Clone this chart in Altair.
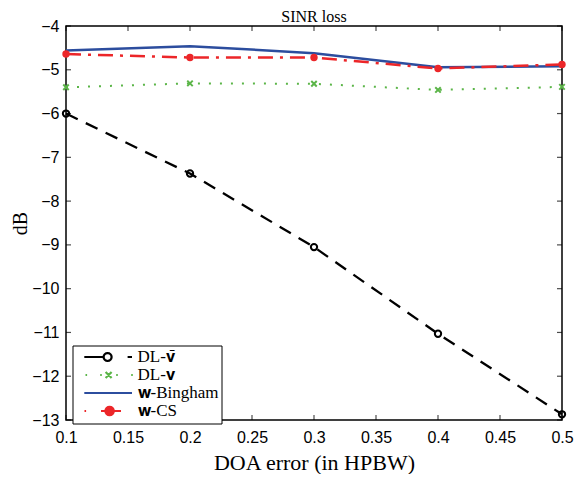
import math
import altair as alt
import pandas as pd

# ---------------- data ----------------
x_vals = [0.1, 0.2, 0.3, 0.4, 0.5]
dl_vbar = [-6.00, -7.37, -9.05, -11.03, -12.87]
dl_v = [-5.40, -5.31, -5.32, -5.46, -5.39]
w_bingham = [-4.56, -4.46, -4.62, -4.94, -4.92]
w_cs = [-4.64, -4.72, -4.72, -4.97, -4.88]

series_keys = ["vbar", "v", "bing", "cs"]
series_names = ["DL-\U0001D42F\u0304", "DL-\U0001D42F", "\U0001D430-Bingham", "\U0001D430-CS"]
x_ticks = [0.1, 0.15, 0.2, 0.25, 0.3, 0.35, 0.4, 0.45, 0.5]
y_ticks = [-13, -12, -11, -10, -9, -8, -7, -6, -5, -4]

colors = ["#000000", "#5bb548", "#2c4d9e", "#ec2629"]

rows = []
for k, name, ys in zip(series_keys, series_names, [dl_vbar, dl_v, w_bingham, w_cs]):
    for xv, yv in zip(x_vals, ys):
        rows.append({"x": xv, "y": yv, "k": k, "series": name})
df = pd.DataFrame(rows)

XT = "DOA error (in HPBW)"
YT = "dB"
xscale = alt.Scale(domain=[0.1, 0.5], nice=False, zero=False)
yscale = alt.Scale(domain=[-13, -4], nice=False, zero=False)

base = alt.Chart(df).encode(
    x=alt.X("x:Q", scale=xscale, title=XT,
            axis=alt.Axis(values=x_ticks, format="~g", labelFlush=False)),
    y=alt.Y("y:Q", scale=yscale, title=YT,
            axis=alt.Axis(values=y_ticks, format="~g", labelFlush=False)),
)


def sel(k):
    return base.transform_filter(alt.datum.k == k)


xmark = "M-1,-1L1,1M-1,1L1,-1"

l_vbar = sel("vbar").mark_line(color=colors[0], strokeWidth=2.3, strokeDash=[13, 9])
p_vbar = sel("vbar").mark_point(shape="circle", filled=False, color=colors[0],
                                strokeWidth=2, size=40, opacity=1)
l_v = sel("v").mark_line(color=colors[1], strokeWidth=2, strokeDash=[2, 9])
p_v = sel("v").mark_point(shape=xmark, filled=False, color=colors[1],
                          strokeWidth=2, size=30, opacity=1)
l_bing = sel("bing").mark_line(color=colors[2], strokeWidth=2.5)
l_cs = sel("cs").mark_line(color=colors[3], strokeWidth=2.5, strokeDash=[15, 7, 3, 7])
p_cs = sel("cs").mark_point(shape="circle", filled=True, color=colors[3],
                            size=55, opacity=1)

# ---------------- inside ticks ----------------
xt_df = pd.DataFrame({"t": x_ticks})
yt_df = pd.DataFrame({"t": y_ticks})
tick_kw = dict(color="black", thickness=1.2, size=5)
tb = alt.Chart(xt_df).mark_tick(orient="vertical", yOffset=-2.5, **tick_kw).encode(
    x=alt.X("t:Q", title=XT), y=alt.Y(datum=-13, type="quantitative", title=YT))
tt = alt.Chart(xt_df).mark_tick(orient="vertical", yOffset=2.5, **tick_kw).encode(
    x=alt.X("t:Q", title=XT), y=alt.Y(datum=-4, type="quantitative", title=YT))
tl = alt.Chart(yt_df).mark_tick(orient="horizontal", xOffset=2.5, **tick_kw).encode(
    y=alt.Y("t:Q", title=YT), x=alt.X(datum=0.1, type="quantitative", title=XT))
tr = alt.Chart(yt_df).mark_tick(orient="horizontal", xOffset=-2.5, **tick_kw).encode(
    y=alt.Y("t:Q", title=YT), x=alt.X(datum=0.5, type="quantitative", title=XT))

# ---------------- legend (symbols with line + marker) ----------------
def u(p):
    return f"{(p + 0.3) / 5:.3f}"


def v(p):
    return f"{p / 5:.3f}"


def seg(p0, p1, y0=0, y1=0):
    return f"M{u(p0)},{v(y0)}L{u(p1)},{v(y1)}"


def circ(cx, r, n=16):
    pts = []
    for i in range(n):
        a = 2 * math.pi * i / n
        pts.append(f"{u(cx + r * math.cos(a))},{v(r * math.sin(a))}")
    return "M" + "L".join(pts) + "Z"


sym_vbar = seg(0, 19.3) + circ(23.3, 4) + seg(43.3, 47.7)
sym_v = "".join(seg(p - 0.8, p + 0.8) for p in [2, 16.7, 32.7, 47.7]) \
    + seg(21.3, 27.3, -3, 3) + seg(21.3, 27.3, 3, -3)
sym_bing = seg(0, 47.7)
sym_cs = seg(0.2, 1.8) + seg(16.7, 36.7) + circ(25.3, 4.2)
sym_paths = [sym_vbar, sym_v, sym_bing, sym_cs]
sym_fills = ["white", "transparent", "transparent", colors[3]]

L = alt.Legend(title=None, orient="none", legendX=6.5, legendY=319.5,
               symbolSize=100, symbolStrokeWidth=2.2, symbolOpacity=1,
               labelFont="Liberation Serif", labelFontSize=17, labelColor="black",
               labelOffset=45, rowPadding=0, padding=3,
               strokeColor="black", fillColor="white")

leg = alt.Chart(df).transform_filter("false").mark_point(
    size=100, strokeWidth=2.2, opacity=1).encode(
    x=alt.X("x:Q", title=XT), y=alt.Y("y:Q", title=YT),
    shape=alt.Shape("series:N", scale=alt.Scale(domain=series_names, range=sym_paths), legend=L),
    stroke=alt.Stroke("series:N", scale=alt.Scale(domain=series_names, range=colors), legend=L),
    fill=alt.Fill("series:N", scale=alt.Scale(domain=series_names, range=sym_fills), legend=L),
)

chart = alt.layer(
    l_vbar, p_vbar, l_v, p_v, l_bing, l_cs, p_cs, tb, tt, tl, tr, leg
).properties(
    width=496, height=394,
    title=alt.TitleParams("SINR loss", font="Liberation Serif", fontSize=16,
                          fontWeight="normal", color="black", offset=0, dy=7,
                          frame="group"),
    autosize=alt.AutoSizeParams(type="none"),
    padding={"left": 58, "top": 18, "right": 12, "bottom": 54},
).configure_view(
    stroke="black", strokeWidth=1.5
).configure_axis(
    domain=False, ticks=False, grid=False,
    labelFont="Liberation Sans", labelFontSize=16, labelColor="black",
    titleFont="Liberation Serif", titleFontSize=22, titleFontWeight="normal",
    titleColor="black",
).configure_axisX(
    labelPadding=9, titlePadding=7,
).configure_axisY(
    labelPadding=7, titlePadding=1, titleFontSize=20,
)

chart.save("out.html", embed_options={"renderer": "svg", "actions": False})
